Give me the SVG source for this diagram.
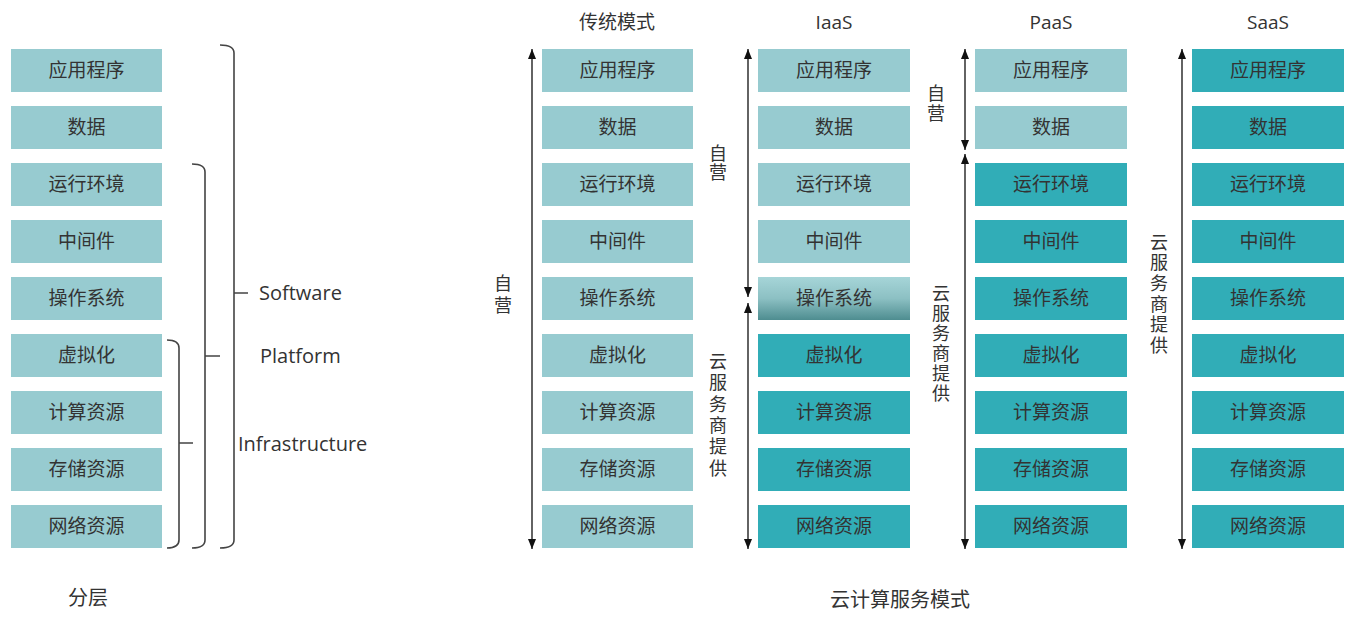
<svg xmlns="http://www.w3.org/2000/svg" width="1351" height="625" viewBox="0 0 1351 625">
<style>
.l{fill:#97cbd0}
.d{fill:#31adb7}
.bt{font-family:"Noto Sans CJK SC","Noto Sans",sans-serif;font-size:19px;fill:#333;text-anchor:middle}
.vt{font-family:"Noto Sans CJK SC",sans-serif;font-size:18px;fill:#333;writing-mode:vertical-rl;text-anchor:start}
.lat{font-family:"Open Sans","Noto Sans",sans-serif;font-size:20px;fill:#333}
.hd{font-family:"Open Sans","Noto Sans CJK SC",sans-serif;font-size:19px;fill:#333;text-anchor:middle}
.cap{font-family:"Noto Sans CJK SC",sans-serif;font-size:20px;fill:#333;text-anchor:middle}
.br{fill:none;stroke:#444;stroke-width:1.6}
.ar{stroke:#222;stroke-width:1.4;marker-start:url(#ah);marker-end:url(#ah)}
</style>
<defs>
<linearGradient id="g" x1="0" y1="0" x2="0" y2="1">
<stop offset="0" stop-color="#a6d5d8"/>
<stop offset="0.5" stop-color="#8cc0c3"/>
<stop offset="1" stop-color="#4e8d90"/>
</linearGradient>
<marker id="ah" viewBox="0 0 10 10" refX="10" refY="5" markerWidth="10" markerHeight="10" markerUnits="userSpaceOnUse" orient="auto-start-reverse">
<path d="M0,1 L10,5 L0,9 Z" fill="#111"/>
</marker>
</defs>
<rect width="1351" height="625" fill="#fff"/>

<g id="layers">
<rect class="l" x="11" y="49" width="151" height="43"/><text class="bt" x="86.5" y="77">应用程序</text>
<rect class="l" x="11" y="106" width="151" height="43"/><text class="bt" x="86.5" y="134">数据</text>
<rect class="l" x="11" y="163" width="151" height="43"/><text class="bt" x="86.5" y="191">运行环境</text>
<rect class="l" x="11" y="220" width="151" height="43"/><text class="bt" x="86.5" y="248">中间件</text>
<rect class="l" x="11" y="277" width="151" height="43"/><text class="bt" x="86.5" y="305">操作系统</text>
<rect class="l" x="11" y="334" width="151" height="43"/><text class="bt" x="86.5" y="362">虚拟化</text>
<rect class="l" x="11" y="391" width="151" height="43"/><text class="bt" x="86.5" y="419">计算资源</text>
<rect class="l" x="11" y="448" width="151" height="43"/><text class="bt" x="86.5" y="476">存储资源</text>
<rect class="l" x="11" y="505" width="151" height="43"/><text class="bt" x="86.5" y="533">网络资源</text>
</g>

<g id="braces">
<path class="br" d="M220,45 Q234,45 234,53 L234,540 Q234,548 220,548 M234,293 L248,293"/>
<path class="br" d="M192,164 Q205,164 205,172 L205,540 Q205,548 192,548 M205,356 L220,356"/>
<path class="br" d="M167,340 Q179,340 179,348 L179,540 Q179,548 167,548 M179,443 L193,443"/>
<text class="lat" x="259" y="300">Software</text>
<text class="lat" x="260" y="363">Platform</text>
<text class="lat" x="238" y="451">Infrastructure</text>
<text class="cap" x="88" y="605">分层</text>
</g>

<g id="traditional">
<text class="hd" x="617" y="29">传统模式</text>
<rect class="l" x="542" y="49" width="151" height="43"/><text class="bt" x="617.5" y="77">应用程序</text>
<rect class="l" x="542" y="106" width="151" height="43"/><text class="bt" x="617.5" y="134">数据</text>
<rect class="l" x="542" y="163" width="151" height="43"/><text class="bt" x="617.5" y="191">运行环境</text>
<rect class="l" x="542" y="220" width="151" height="43"/><text class="bt" x="617.5" y="248">中间件</text>
<rect class="l" x="542" y="277" width="151" height="43"/><text class="bt" x="617.5" y="305">操作系统</text>
<rect class="l" x="542" y="334" width="151" height="43"/><text class="bt" x="617.5" y="362">虚拟化</text>
<rect class="l" x="542" y="391" width="151" height="43"/><text class="bt" x="617.5" y="419">计算资源</text>
<rect class="l" x="542" y="448" width="151" height="43"/><text class="bt" x="617.5" y="476">存储资源</text>
<rect class="l" x="542" y="505" width="151" height="43"/><text class="bt" x="617.5" y="533">网络资源</text>
</g>

<g id="iaas">
<text class="hd" x="834" y="29">IaaS</text>
<rect class="l" x="758" y="49" width="152" height="43"/><text class="bt" x="834" y="77">应用程序</text>
<rect class="l" x="758" y="106" width="152" height="43"/><text class="bt" x="834" y="134">数据</text>
<rect class="l" x="758" y="163" width="152" height="43"/><text class="bt" x="834" y="191">运行环境</text>
<rect class="l" x="758" y="220" width="152" height="43"/><text class="bt" x="834" y="248">中间件</text>
<rect fill="url(#g)" x="758" y="277" width="152" height="43"/><text class="bt" x="834" y="305">操作系统</text>
<rect class="d" x="758" y="334" width="152" height="43"/><text class="bt" x="834" y="362">虚拟化</text>
<rect class="d" x="758" y="391" width="152" height="43"/><text class="bt" x="834" y="419">计算资源</text>
<rect class="d" x="758" y="448" width="152" height="43"/><text class="bt" x="834" y="476">存储资源</text>
<rect class="d" x="758" y="505" width="152" height="43"/><text class="bt" x="834" y="533">网络资源</text>
</g>

<g id="paas">
<text class="hd" x="1051" y="29">PaaS</text>
<rect class="l" x="975" y="49" width="152" height="43"/><text class="bt" x="1051" y="77">应用程序</text>
<rect class="l" x="975" y="106" width="152" height="43"/><text class="bt" x="1051" y="134">数据</text>
<rect class="d" x="975" y="163" width="152" height="43"/><text class="bt" x="1051" y="191">运行环境</text>
<rect class="d" x="975" y="220" width="152" height="43"/><text class="bt" x="1051" y="248">中间件</text>
<rect class="d" x="975" y="277" width="152" height="43"/><text class="bt" x="1051" y="305">操作系统</text>
<rect class="d" x="975" y="334" width="152" height="43"/><text class="bt" x="1051" y="362">虚拟化</text>
<rect class="d" x="975" y="391" width="152" height="43"/><text class="bt" x="1051" y="419">计算资源</text>
<rect class="d" x="975" y="448" width="152" height="43"/><text class="bt" x="1051" y="476">存储资源</text>
<rect class="d" x="975" y="505" width="152" height="43"/><text class="bt" x="1051" y="533">网络资源</text>
</g>

<g id="saas">
<text class="hd" x="1268" y="29">SaaS</text>
<rect class="d" x="1192" y="49" width="152" height="43"/><text class="bt" x="1268" y="77">应用程序</text>
<rect class="d" x="1192" y="106" width="152" height="43"/><text class="bt" x="1268" y="134">数据</text>
<rect class="d" x="1192" y="163" width="152" height="43"/><text class="bt" x="1268" y="191">运行环境</text>
<rect class="d" x="1192" y="220" width="152" height="43"/><text class="bt" x="1268" y="248">中间件</text>
<rect class="d" x="1192" y="277" width="152" height="43"/><text class="bt" x="1268" y="305">操作系统</text>
<rect class="d" x="1192" y="334" width="152" height="43"/><text class="bt" x="1268" y="362">虚拟化</text>
<rect class="d" x="1192" y="391" width="152" height="43"/><text class="bt" x="1268" y="419">计算资源</text>
<rect class="d" x="1192" y="448" width="152" height="43"/><text class="bt" x="1268" y="476">存储资源</text>
<rect class="d" x="1192" y="505" width="152" height="43"/><text class="bt" x="1268" y="533">网络资源</text>
</g>

<g id="connectors">
<line class="ar" x1="532" y1="549" x2="532" y2="49"/>
<line class="ar" x1="748" y1="297" x2="748" y2="49"/>
<line class="ar" x1="748" y1="549" x2="748" y2="303"/>
<line class="ar" x1="965" y1="150" x2="965" y2="49"/>
<line class="ar" x1="965" y1="549" x2="965" y2="154"/>
<line class="ar" x1="1182" y1="549" x2="1182" y2="49"/>
</g>

<g id="labels">
<text class="vt" x="503" y="274" letter-spacing="4">自营</text>
<text class="vt" x="718" y="144" letter-spacing="1">自营</text>
<text class="vt" x="718" y="352" letter-spacing="3.4">云服务商提供</text>
<text class="vt" x="936" y="84" letter-spacing="2">自营</text>
<text class="vt" x="941" y="284" letter-spacing="2">云服务商提供</text>
<text class="vt" x="1159" y="233" letter-spacing="2.6">云服务商提供</text>
<text class="cap" x="900" y="607">云计算服务模式</text>
</g>
</svg>
